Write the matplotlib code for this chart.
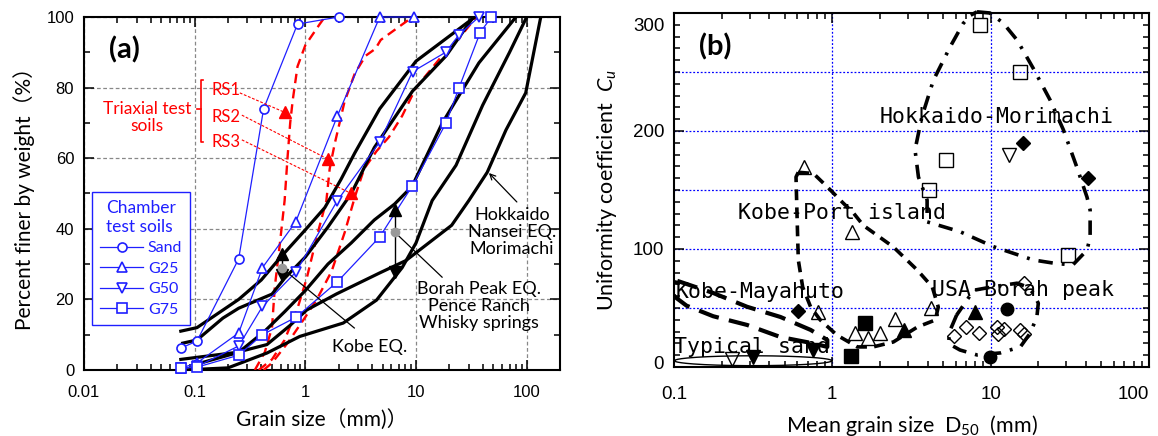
import numpy as np
import matplotlib.pyplot as plt
from matplotlib.ticker import LogLocator, MultipleLocator, FuncFormatter, NullFormatter
from matplotlib.transforms import ScaledTranslation

plt.rcParams['font.family'] = ['Liberation Sans', 'Noto Sans CJK JP']
plt.rcParams['mathtext.fontset'] = 'custom'
plt.rcParams['mathtext.rm'] = 'Lato'
plt.rcParams['mathtext.it'] = 'Lato:italic'

LABEL_FONT = ['Lato', 'Noto Sans CJK JP']
MONO_FONT = ['DejaVu Sans Mono']

# ---------------- (a) grading curves ----------------
# chamber test soils (blue)
sand_x = [0.075, 0.105, 0.25, 0.42, 0.85, 2.0]
sand_y = [6.2, 8.2, 31.5, 74, 98, 100]
g25_x = [0.075, 0.105, 0.25, 0.41, 0.82, 1.95, 4.7, 9.5]
g25_y = [0.5, 2, 10.5, 29, 42, 72, 100, 100]
g50_x = [0.075, 0.105, 0.25, 0.41, 0.82, 1.95, 4.7, 9.3, 18.5, 24.5, 37]
g50_y = [0.5, 1.0, 6.8, 18, 27.7, 48, 64.6, 84.5, 90, 95, 100]
g75_x = [0.075, 0.105, 0.25, 0.41, 0.83, 1.95, 4.7, 9.2, 18.7, 24.5, 38, 48]
g75_y = [0.5, 0.8, 4.2, 10, 15, 25, 37.7, 52, 70, 80, 95.6, 100]

# triaxial test soils (red)
rs1_x = [0.35, 0.43, 0.5, 0.53, 0.59, 0.65, 0.69, 0.73, 0.77, 0.85, 1.0, 1.35, 1.5]
rs1_y = [0, 5, 12, 23.5, 36, 48, 60, 70, 76.5, 86, 92, 98, 100]
rs2_x = [0.38, 0.5, 0.65, 0.86, 1.03, 1.3, 1.55, 1.66, 1.84, 2.26, 2.8, 3.5, 4.3, 4.8, 9.3]
rs2_y = [0, 3, 8.5, 18, 26, 39, 48, 57, 64, 76, 84, 89, 91, 93.5, 100]
rs3_x = [0.42, 0.5, 0.69, 1.0, 1.27, 1.73, 2.27, 2.8, 3.4, 4.4, 5.7, 7.5, 10, 18.7, 24.6, 35]
rs3_y = [0, 2, 7.6, 15, 20, 28, 39, 49, 57, 62, 66, 72, 80, 90.4, 94, 100]
rs_names = ['RS1', 'RS2', 'RS3']
rs_mark_x = [0.65, 1.59, 2.6]
rs_mark_y = [73, 59.8, 50]

# field soils (black)
kobe_hi_x = [0.075, 0.105, 0.25, 0.4, 0.6, 1.0, 1.5, 2.1, 2.8, 4.7, 10, 23, 34]
kobe_hi_y = [11, 12, 20, 25.5, 32, 39.7, 46, 54, 61.5, 74, 87.5, 96, 100]
kobe_lo_x = [0.078, 0.105, 0.18, 0.25, 0.5, 0.65, 1.0, 1.6, 2.6, 4.2, 9.3, 18.7, 33]
kobe_lo_y = [7.6, 8.5, 14.7, 17.5, 21.5, 26, 32, 40.5, 50, 63, 79, 89, 100]
borah_hi_x = [0.1, 0.25, 0.43, 0.65, 1.0, 1.6, 2.6, 4.2, 6.4, 9.2, 17.3, 37, 80]
borah_hi_y = [1.5, 5, 11, 16.5, 22.5, 30, 36, 42.5, 47, 52, 70, 87, 100]
borah_lo_x = [0.08, 0.2, 0.45, 0.89, 2.2, 4.4, 7.5, 10, 14, 23, 40, 70, 100]
borah_lo_y = [0, 0.6, 4.8, 9.5, 13.3, 19.8, 29, 36, 48, 58, 75, 90, 100]
hokkaido_x = [0.075, 0.24, 0.45, 0.72, 1.03, 1.9, 4.7, 8.1, 21, 30, 44, 65, 98, 134]
hokkaido_y = [3, 5, 7.2, 12.5, 17, 21.5, 27.5, 31, 41, 48, 56, 68, 78.5, 100]

# ranges marked with double arrows: x, top, mean, bottom
kobe_bar = (0.62, 32.9, 28.8, 26.9)
borah_bar = (6.4, 45.3, 39.1, 27.8)

# ---------------- (b) D50 versus Cu ----------------
sq_open_x = [8.6, 15.3, 5.25, 4.06, 30.6]
sq_open_y = [290, 250, 175, 150, 94.9]
sq_fill_x = [1.6, 1.31]
sq_fill_y = [37, 9.3]
dia_fill_x = [16.1, 41.5, 0.607]
dia_fill_y = [190, 160, 47.5]
dia_open_x = [16.2, 5.9, 7.0, 8.4, 11.0, 11.1, 12.2, 15.3, 16.3]
dia_open_y = [71.5, 26.3, 33.6, 29.1, 34.2, 28, 31.9, 31.4, 28]
tri_up_open_x = [0.665, 1.33, 0.81, 1.4, 1.68, 2.0, 2.5, 4.2]
tri_up_open_y = [169.5, 114.7, 46.9, 28.5, 24.3, 28.5, 41, 49.7]
tri_up_fill_x = [2.82, 8.0]
tri_up_fill_y = [31.4, 46.9]
tri_dn_open_x = [13.1, 0.233]
tri_dn_open_y = [180, 6.5]
tri_dn_fill_x = [0.317, 0.76]
tri_dn_fill_y = [8.8, 14.4]
circ_fill_x = [12.7, 9.9]
circ_fill_y = [48.9, 8.8]

# region outlines
port_x = [0.61, 0.76, 0.94, 1.17, 1.36, 1.57, 2.43, 3.45, 4.28, 4.67, 4.47, 3.45, 2.43,
          1.81, 1.44, 1.07, 0.84, 0.73, 0.65, 0.61, 0.6, 0.59, 0.61]
port_y = [165, 164, 152, 139, 130.5, 120, 101.7, 82, 67.8, 50.8, 39.8, 33.9, 21.2,
          17, 17, 27, 39.8, 50.8, 67.8, 90.7, 124.6, 161, 165]
maya_x = [0.105, 0.177, 0.29, 0.47, 0.73, 0.93, 0.93, 0.76, 0.47, 0.29, 0.177, 0.12, 0.1, 0.1, 0.105]
maya_y = [73, 62.7, 51, 42.4, 31.4, 22.9, 17, 20, 25.4, 35.6, 43, 52, 60, 67, 73]
hok_x = [8.2, 9.9, 12, 14.7, 18.6, 23.8, 28.8, 35, 40.6, 42.5, 42.5, 40.6, 33, 25, 18.6,
         10.4, 6.4, 3.97, 3.97, 3.5, 3.33, 3.68, 4.35, 5.56, 6.7, 7.45, 8.2]
hok_y = [301, 300, 291.5, 277, 253, 226, 201, 169.5, 144, 133, 110, 99, 86.4, 88, 90.7,
         102, 114.7, 123, 141.5, 161, 184, 212, 243, 271.5, 291, 298, 301]
usa_x = [6.1, 5.56, 5.4, 6.4, 8.2, 11.5, 15.4, 17.8, 19.6, 20, 18.6, 16.9, 14.7, 10.4, 7.8, 7.1, 6.1]
usa_y = [44, 31.4, 20, 14.4, 10.2, 11.9, 17, 28.8, 42.6, 54, 62.7, 68, 71, 68, 65, 56.8, 44]

region_names = ['Hokkaido-Morimachi', 'Kobe-Port island', 'Kobe-Mayahuto', 'USA-Borah peak', 'Typical sand']
region_x = [10.97, 1.157, 0.351, 16.1, 0.312]
region_y = [212.1, 130.5, 63.6, 65.3, 16.9]


def log_fmt(v, pos):
    return f'{v:g}'


def style_axes(ax, labelsize, xpad, ypad):
    ax.set_xscale('log')
    ax.xaxis.set_major_locator(LogLocator(base=10))
    ax.xaxis.set_minor_locator(LogLocator(base=10, subs=np.arange(2, 10)))
    ax.xaxis.set_major_formatter(FuncFormatter(log_fmt))
    ax.xaxis.set_minor_formatter(NullFormatter())
    ax.tick_params(which='both', direction='in', top=True, right=True, width=1.1)
    ax.tick_params(which='major', length=7)
    ax.tick_params(which='minor', length=4)
    ax.tick_params(axis='x', labelsize=labelsize, pad=xpad)
    ax.tick_params(axis='y', labelsize=labelsize, pad=ypad)
    for s in ax.spines.values():
        s.set_linewidth(1.5)


fig = plt.figure(figsize=(11.58, 4.36), dpi=100)

# ================= panel (a) =================
ax = fig.add_axes([0.0725, 0.1514, 0.4111, 0.8096])
style_axes(ax, 12, 11, 7)
ax.set_xlim(0.01, 200)
ax.set_ylim(0, 100)
ax.yaxis.set_major_locator(MultipleLocator(20))
ax.yaxis.set_minor_locator(MultipleLocator(10))
ax.grid(True, which='major', ls=(0, (3, 2)), color='#888888', lw=0.9)
ax.set_axisbelow(True)

for xs, ys in [(rs1_x, rs1_y), (rs2_x, rs2_y), (rs3_x, rs3_y)]:
    ax.plot(xs, ys, color='red', lw=1.7, ls=(0, (4, 2.5)), zorder=3)

for xs, ys in [(kobe_hi_x, kobe_hi_y), (kobe_lo_x, kobe_lo_y), (borah_hi_x, borah_hi_y),
               (borah_lo_x, borah_lo_y), (hokkaido_x, hokkaido_y)]:
    ax.plot(xs, ys, color='black', lw=2.3, zorder=4, solid_joinstyle='round')

blue = '#1f1fff'
series = [(sand_x, sand_y, 'o', 'Sand'), (g25_x, g25_y, '^', 'G25'),
          (g50_x, g50_y, 'v', 'G50'), (g75_x, g75_y, 's', 'G75')]
for xs, ys, m, name in series:
    ax.plot(xs, ys, color=blue, lw=0.9, marker=m, ms=7.5 if m in '^v' else 6.5,
            mfc='white', mec=blue, mew=1.2, label=name, zorder=5, clip_on=False)

# triaxial soil markers and their labels
ax.plot(rs_mark_x, rs_mark_y, ls='none', marker='^', ms=9, color='red', zorder=6)
rs_label_y = [79.3, 71.7, 64.6]
leader_start = [(0.256, 78.5), (0.267, 72.2), (0.267, 65.2)]
for name, ly, (sx, sy), mx, my in zip(rs_names, rs_label_y, leader_start, rs_mark_x, rs_mark_y):
    ax.text(0.143, ly, name, color='red', fontsize=12, family=LABEL_FONT, va='center', ha='left')
    ax.plot([sx, mx], [sy, my], color='red', lw=0.8, ls=(0, (2.5, 1.5)), zorder=6)
ax.plot([0.118, 0.114, 0.114, 0.118], [82.2, 82.2, 64.6, 64.6], color='red', lw=1.2)
ax.plot([0.114, 0.104], [74, 74], color='red', lw=1.2)
ax.text(0.037, 71.5, 'Triaxial test\nsoils', color='red', fontsize=12.5, family=LABEL_FONT,
        ha='center', va='center', linespacing=1.05)

# double arrows for field ranges
for bx, top, mid, bot in [kobe_bar, borah_bar]:
    ax.plot([bx, bx], [bot, top], color='black', lw=1.0, zorder=7)
    ax.plot([bx], [top], marker='^', ms=8, color='black', zorder=7)
    ax.plot([bx], [bot], marker='v', ms=8, color='black', zorder=7)
    ax.plot([bx], [mid], marker='o', ms=6, color='#999999', zorder=8)

ax.plot([kobe_bar[0], 2.77], [kobe_bar[2], 11.9], color='black', lw=0.9, zorder=7)
ax.text(3.8, 6.5, 'Kobe EQ.', fontsize=13, family=LABEL_FONT, ha='center', va='center')
ax.plot([borah_bar[0], 17.2], [borah_bar[2], 26.3], color='black', lw=0.9, zorder=7)
ax.text(37, 18.1, 'Borah Peak EQ.\nPence Ranch\nWhisky springs', fontsize=13,
        family=LABEL_FONT, ha='center', va='center', linespacing=1.05)
ax.annotate('', xy=(45.6, 55.8), xytext=(81.5, 47.6),
            arrowprops=dict(arrowstyle='->', color='black', lw=0.9, shrinkA=0, shrinkB=0))
ax.text(73.8, 39.1, 'Hokkaido\nNansei EQ.\nMorimachi', fontsize=13,
        family=LABEL_FONT, ha='center', va='center', linespacing=1.05)

ax.text(0.085, 0.906, '(a)', transform=ax.transAxes, fontsize=21, fontweight='bold',
        family=LABEL_FONT, ha='center', va='center')

leg = ax.legend(loc='upper left', bbox_to_anchor=(0.017, 0.504), borderaxespad=0,
                title='Chamber\ntest soils', prop={'family': LABEL_FONT, 'size': 11.5},
                title_fontproperties={'family': LABEL_FONT, 'size': 12.5},
                frameon=True, fancybox=False, edgecolor=blue, framealpha=1,
                handlelength=2.7, handletextpad=0.3, labelspacing=0.4, borderpad=0.5,
                labelcolor=blue)
leg.get_title().set_color(blue)
leg.get_frame().set_linewidth(1.0)

ax.set_xlabel('Grain size（mm)）', fontsize=15, family=LABEL_FONT, labelpad=6)
ax.set_ylabel('Percent finer by weight（%）', fontsize=15, family=LABEL_FONT, labelpad=8)

# ================= panel (b) =================
bx_ = fig.add_axes([0.582, 0.1583, 0.4102, 0.8119])
style_axes(bx_, 13.5, 14, 7)
bx_.set_xlim(0.1, 100)
bx_.set_ylim(0, 300)
bx_.yaxis.set_major_locator(MultipleLocator(100))
bx_.yaxis.set_minor_locator(MultipleLocator(10))
for gy in [50, 100, 150, 200, 250]:
    bx_.axhline(gy, color='blue', lw=0.9, ls=(0, (1.5, 1.5)), zorder=1)
for gx in [1, 10]:
    bx_.axvline(gx, color='blue', lw=0.9, ls=(0, (1.5, 1.5)), zorder=1)

bx_.plot(port_x, port_y, color='black', lw=2.6, ls=(0, (3, 2)), zorder=3)
bx_.plot(maya_x, maya_y, color='black', lw=3.0, ls=(0, (5, 2.5)), zorder=3)
bx_.plot(hok_x, hok_y, color='black', lw=2.6, ls=(0, (4, 2.5, 0.8, 2.5)), zorder=3, clip_on=False)
bx_.plot(usa_x, usa_y, color='black', lw=2.6, ls=(0, (4, 2.5, 0.8, 2.5)), zorder=3)

t = np.linspace(0, 2 * np.pi, 200)
bx_.plot(10 ** (-0.5 + 0.497 * np.cos(t)), 5.3 + 4.2 * np.sin(t), color='black', lw=1.0, zorder=3)

mk = dict(ls='none', zorder=5)
bx_.plot(sq_open_x, sq_open_y, marker='s', ms=10, mfc='none', mec='black', mew=1.0, **mk)
bx_.plot(sq_fill_x, sq_fill_y, marker='s', ms=10, color='black', **mk)
bx_.plot(dia_fill_x, dia_fill_y, marker='D', ms=7.5, color='black', **mk)
bx_.plot(dia_open_x, dia_open_y, marker='D', ms=7.5, mfc='none', mec='black', mew=1.0, **mk)
bx_.plot(tri_up_open_x, tri_up_open_y, marker='^', ms=10, mfc='none', mec='black', mew=1.0, **mk)
bx_.plot(tri_up_fill_x, tri_up_fill_y, marker='^', ms=10, color='black', **mk)
bx_.plot(tri_dn_open_x, tri_dn_open_y, marker='v', ms=10, mfc='none', mec='black', mew=1.0, **mk)
bx_.plot(tri_dn_fill_x, tri_dn_fill_y, marker='v', ms=10, color='black', **mk)
bx_.plot(circ_fill_x, circ_fill_y, marker='o', ms=9, color='black', **mk)

for name, rx, ry in zip(region_names, region_x, region_y):
    bx_.text(rx, ry, name, fontsize=15.5, family=MONO_FONT, ha='center', va='center', zorder=6)

bx_.text(0.087, 0.903, '(b)', transform=bx_.transAxes, fontsize=21, fontweight='bold',
         family=LABEL_FONT, ha='center', va='center')

bx_.set_xlabel('Mean grain size  D$_{50}$  (mm)', fontsize=15.5, family='Lato', labelpad=7)
bx_.set_ylabel('Uniformity coefficient  $C_u$', fontsize=15.5, family='Lato', labelpad=10)

# keep the end labels of (b) inside the frame
fig.canvas.draw()
for lbl in bx_.get_xticklabels():
    if lbl.get_text() == '100':
        lbl.set_horizontalalignment('right')
for lbl in bx_.get_yticklabels():
    if lbl.get_text() == '300':
        lbl.set_transform(lbl.get_transform() + ScaledTranslation(0, -8 / 72, fig.dpi_scale_trans))
    elif lbl.get_text() == '0':
        lbl.set_transform(lbl.get_transform() + ScaledTranslation(0, 3.5 / 72, fig.dpi_scale_trans))

fig.savefig('out.png', dpi=100)
